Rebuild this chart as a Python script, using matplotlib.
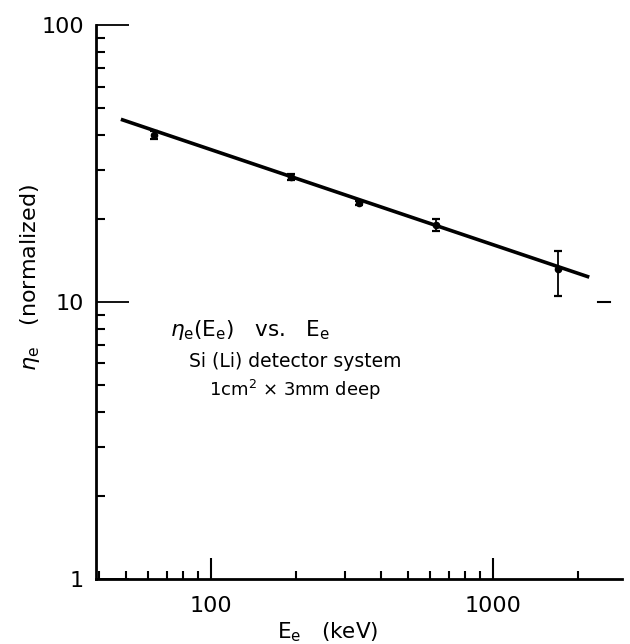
import matplotlib
matplotlib.use('Agg')
import matplotlib.pyplot as plt
from matplotlib.ticker import NullFormatter, FixedLocator, FixedFormatter
import numpy as np

# measured points (keV, normalized efficiency)
energy = [62.8, 193, 335, 631, 1704]
eta = [40.0, 28.3, 22.8, 18.9, 13.2]
err_lo = [1.3, 0.6, 0.4, 0.9, 2.7]
err_hi = [1.3, 0.6, 0.4, 1.0, 2.1]

# fitted line end points
fit_e = [48, 2200]
fit_eta = [45.7, 12.3]

x_ticks = [100, 1000]
x_ticklabels = ['100', '1000']
y_ticks = [1, 10, 100]
y_ticklabels = ['1', '10', '100']

plt.rcParams['font.family'] = ['DejaVu Sans']
plt.rcParams['mathtext.fontset'] = 'dejavusans'

fig = plt.figure(figsize=(6.3, 6.44), dpi=100)
ax = fig.add_axes([0.153, 0.101, 0.834, 0.860])

ax.plot(fit_e, fit_eta, color='black', lw=2.6, solid_capstyle='butt')
ax.errorbar(energy, eta, yerr=[err_lo, err_hi], fmt='o', color='black',
            ms=4.5, elinewidth=1.3, capsize=3.2, capthick=1.6)

ax.set_xscale('log')
ax.set_yscale('log')
ax.set_xlim(39.3, 2870)
ax.set_ylim(1, 100)

ax.xaxis.set_major_locator(FixedLocator(x_ticks))
ax.xaxis.set_major_formatter(FixedFormatter(x_ticklabels))
ax.yaxis.set_major_locator(FixedLocator(y_ticks))
ax.yaxis.set_major_formatter(FixedFormatter(y_ticklabels))
ax.xaxis.set_minor_formatter(NullFormatter())
ax.yaxis.set_minor_formatter(NullFormatter())

ax.spines['top'].set_visible(False)
ax.spines['right'].set_visible(False)
for s in ['left', 'bottom']:
    ax.spines[s].set_linewidth(2.0)

ax.tick_params(axis='x', which='major', direction='in', length=15, width=1.5,
               labelsize=16, pad=12)
ax.tick_params(axis='x', which='minor', direction='in', length=6, width=1.5)
ax.tick_params(axis='y', which='major', direction='in', length=24, width=1.3,
               labelsize=16, pad=9)
ax.tick_params(axis='y', which='minor', direction='in', length=6.5, width=1.5)

# short mark on the right at the 10 level
ax.axhline(10, xmin=0.954, xmax=0.977, color='black', lw=1.5)

ax.set_xlabel(r'$\mathrm{E_e}$   (keV)', fontsize=15.5)
ax.xaxis.set_label_coords(0.44, -0.074)
ax.set_ylabel(r'$\eta_\mathrm{e}$   (normalized)', fontsize=16)
ax.yaxis.set_label_coords(-0.104, 0.545)

ax.text(0.292, 0.449, r'$\eta_\mathrm{e}(\mathrm{E_e})$   vs.   $\mathrm{E_e}$',
        transform=ax.transAxes, ha='center', va='center', fontsize=15.5)
ax.text(0.378, 0.393, 'Si (Li) detector system',
        transform=ax.transAxes, ha='center', va='center', fontsize=13.5)
ax.text(0.378, 0.341, r'1cm$^2$ $\times$ 3mm deep',
        transform=ax.transAxes, ha='center', va='center', fontsize=13)

fig.savefig('out.png', dpi=100)
